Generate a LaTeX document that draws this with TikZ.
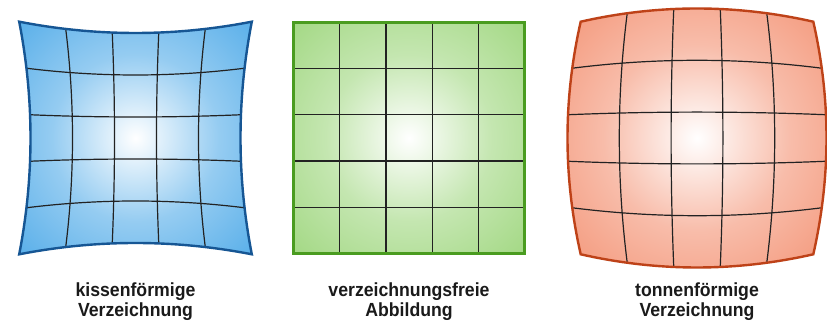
\documentclass[tikz,border=0pt]{standalone}
\usepackage{fontspec}
\newfontfamily\labelfont{Liberation Sans}[FakeStretch=0.93]
\definecolor{bluefill}{RGB}{62,162,230}
\definecolor{blueline}{RGB}{22,86,148}
\definecolor{greenfill}{RGB}{148,210,112}
\definecolor{greenline}{RGB}{74,156,32}
\definecolor{redfill}{RGB}{242,134,100}
\definecolor{redline}{RGB}{190,66,24}
\definecolor{gridcol}{RGB}{34,34,34}
\definecolor{textcol}{RGB}{26,26,26}
\pgfdeclareradialshading{blueshade}{\pgfpoint{0bp}{0bp}}{color(0bp)=(white); color(18bp)=(bluefill!55!white); color(38bp)=(bluefill!90!white); color(50bp)=(bluefill); color(75bp)=(bluefill)}
\pgfdeclareradialshading{greenshade}{\pgfpoint{0bp}{0bp}}{color(0bp)=(white); color(18bp)=(greenfill!55!white); color(38bp)=(greenfill!90!white); color(50bp)=(greenfill); color(75bp)=(greenfill)}
\pgfdeclareradialshading{redshade}{\pgfpoint{0bp}{0bp}}{color(0bp)=(white); color(18bp)=(redfill!55!white); color(38bp)=(redfill!90!white); color(50bp)=(redfill); color(75bp)=(redfill)}
\tikzset{
  gridline/.style={draw=gridcol, line width=1.2pt},
  outline/.style={line width=2.4pt, line join=miter},
  caption/.style={align=center, text=textcol, font=\labelfont\bfseries\fontsize{19}{20}\selectfont, inner sep=0pt, anchor=base}
}
% #1 cx, #2 cy, #3 E (edge half-size), #4 D (corner minus edge), #5 shading, #6 line colour
\newcommand\distortedgrid[6]{%
  \shade[shading=#5]
    plot[domain=-1:1, samples=40, variable=\t] ({#1+\t*(#3+#4)}, {#2+(#3+#4*\t*\t)})
    -- plot[domain=1:-1, samples=40, variable=\t] ({#1+(#3+#4*\t*\t)}, {#2+\t*(#3+#4)})
    -- plot[domain=1:-1, samples=40, variable=\t] ({#1+\t*(#3+#4)}, {#2-(#3+#4*\t*\t)})
    -- plot[domain=-1:1, samples=40, variable=\t] ({#1-(#3+#4*\t*\t)}, {#2+\t*(#3+#4)})
    -- cycle;
  \foreach \u in {-0.6,-0.2,0.2,0.6} {
    \draw[gridline] plot[domain=-1:1, samples=40, variable=\t] ({#1+\u*(#3+#4*\t*\t)}, {#2+\t*(#3+#4*\u*\u)});
    \draw[gridline] plot[domain=-1:1, samples=40, variable=\t] ({#1+\t*(#3+#4*\u*\u)}, {#2+\u*(#3+#4*\t*\t)});
  }
  \draw[outline, draw=#6]
    plot[domain=-1:1, samples=40, variable=\t] ({#1+\t*(#3+#4)}, {#2+(#3+#4*\t*\t)})
    -- plot[domain=1:-1, samples=40, variable=\t] ({#1+(#3+#4*\t*\t)}, {#2+\t*(#3+#4)})
    -- plot[domain=1:-1, samples=40, variable=\t] ({#1+\t*(#3+#4)}, {#2-(#3+#4*\t*\t)})
    -- plot[domain=-1:1, samples=40, variable=\t] ({#1-(#3+#4*\t*\t)}, {#2+\t*(#3+#4)})
    -- cycle;
}
\begin{document}
\begin{tikzpicture}[x=1pt, y=1pt]
\useasboundingbox (0,0) rectangle (827,323);
\fill[white] (0,0) rectangle (827,323);
% pincushion
\distortedgrid{135.5}{185}{105}{11.3}{blueshade}{blueline}
% undistorted
\distortedgrid{409}{185}{115.5}{0}{greenshade}{greenline}
% barrel
\distortedgrid{697}{185}{129.5}{-13.2}{redshade}{redline}
\node[caption] (capA) at (135.5,6.3) {kissenförmige\\Verzeichnung};
\node[caption] (capB) at (409,6.3) {verzeichnungsfreie\\Abbildung};
\node[caption] (capC) at (697,6.3) {tonnenförmige\\Verzeichnung};
\end{tikzpicture}
\end{document}
